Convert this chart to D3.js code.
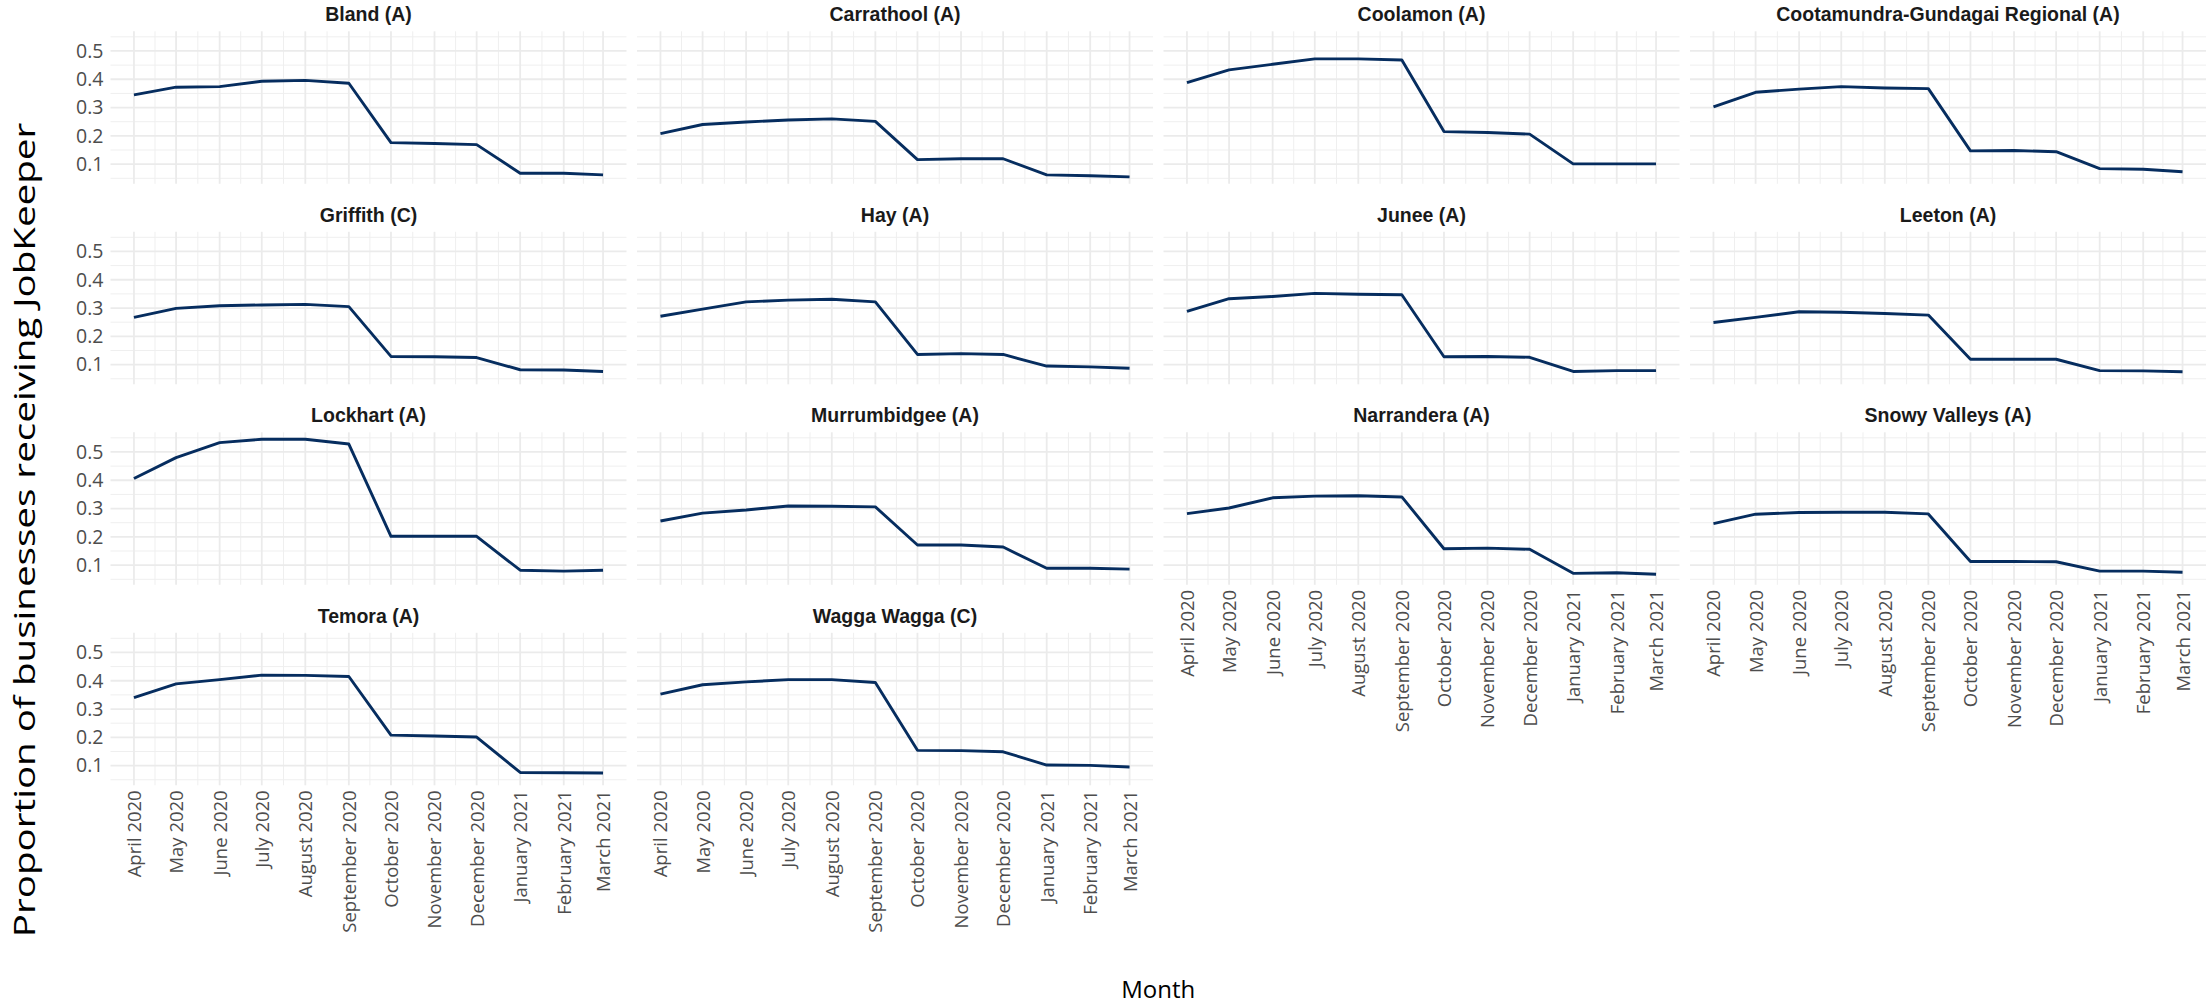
<!DOCTYPE html>
<html>
<head>
<meta charset="utf-8">
<script src="https://cdn.jsdelivr.net/npm/d3@7"></script>
<style>
  html, body { margin: 0; padding: 0; background: #ffffff; }
  svg { display: block; }
</style>
</head>
<body>
<svg id="chart" width="2211" height="1004"></svg>
<script>
// ---------------- data ----------------
const months = ["April 2020", "May 2020", "June 2020", "July 2020", "August 2020", "September 2020",
                "October 2020", "November 2020", "December 2020", "January 2021", "February 2021", "March 2021"];

const regions = ["Bland (A)", "Carrathool (A)", "Coolamon (A)", "Cootamundra-Gundagai Regional (A)",
                 "Griffith (C)", "Hay (A)", "Junee (A)", "Leeton (A)",
                 "Lockhart (A)", "Murrumbidgee (A)", "Narrandera (A)", "Snowy Valleys (A)",
                 "Temora (A)", "Wagga Wagga (C)"];

const bland        = [0.345, 0.372, 0.374, 0.393, 0.396, 0.386, 0.176, 0.173, 0.169, 0.068, 0.068, 0.062];
const carrathool   = [0.208, 0.240, 0.249, 0.256, 0.260, 0.251, 0.116, 0.119, 0.119, 0.062, 0.059, 0.055];
const coolamon     = [0.388, 0.433, 0.453, 0.472, 0.472, 0.468, 0.215, 0.212, 0.206, 0.101, 0.101, 0.101];
const cootamundra  = [0.302, 0.354, 0.365, 0.374, 0.369, 0.367, 0.147, 0.148, 0.144, 0.084, 0.082, 0.073];
const griffith     = [0.267, 0.299, 0.308, 0.311, 0.313, 0.305, 0.129, 0.128, 0.125, 0.082, 0.081, 0.076];
const hay          = [0.271, 0.296, 0.322, 0.328, 0.331, 0.322, 0.136, 0.139, 0.136, 0.095, 0.092, 0.087];
const junee        = [0.288, 0.333, 0.341, 0.352, 0.349, 0.347, 0.128, 0.129, 0.126, 0.076, 0.079, 0.079];
const leeton       = [0.249, 0.267, 0.287, 0.285, 0.281, 0.275, 0.119, 0.119, 0.119, 0.079, 0.078, 0.075];
const lockhart     = [0.406, 0.480, 0.533, 0.545, 0.545, 0.528, 0.202, 0.202, 0.202, 0.082, 0.079, 0.082];
const murrumbidgee = [0.256, 0.284, 0.295, 0.309, 0.308, 0.306, 0.171, 0.171, 0.164, 0.089, 0.089, 0.086];
const narrandera   = [0.282, 0.302, 0.338, 0.344, 0.345, 0.341, 0.158, 0.160, 0.156, 0.071, 0.073, 0.068];
const snowy        = [0.247, 0.280, 0.286, 0.287, 0.287, 0.281, 0.113, 0.113, 0.112, 0.079, 0.079, 0.075];
const temora       = [0.340, 0.389, 0.404, 0.420, 0.419, 0.415, 0.208, 0.205, 0.201, 0.076, 0.075, 0.074];
const wagga        = [0.353, 0.386, 0.396, 0.404, 0.404, 0.394, 0.154, 0.153, 0.149, 0.102, 0.101, 0.095];

const seriesValues = [bland, carrathool, coolamon, cootamundra, griffith, hay, junee, leeton,
                      lockhart, murrumbidgee, narrandera, snowy, temora, wagga];

const yTickValues = [0.1, 0.2, 0.3, 0.4, 0.5];
const yTickLabels = ["0.1", "0.2", "0.3", "0.4", "0.5"];

const xTitle = "Month";
const yTitle = "Proportion of businesses receiving JobKeeper";

// ---------------- layout ----------------
const W = 2211, H = 1004;
const nCols = 4;
const colLeft0 = 110.5, colStep = 526.5, panelW = 516;
const rowTop0 = 31.3, rowStep = 200.5, panelH = 152.5;

const lineColor = "#062d5f";
const gridMajor = "#ebebeb";
const gridMinor = "#efefef";
const tickFont = "'Open Sans', 'Noto Sans', sans-serif";
const stripFont = "'Liberation Sans', Arial, sans-serif";
const xTickSize = 18.5;
const yTickSize = 19.5;

const parseMonth = d3.timeParse("%B %Y");
const dates = months.map(parseMonth);

// x scale: continuous date with 5% expansion
const t0 = dates[0].getTime(), t1 = dates[dates.length - 1].getTime();
const xPad = (t1 - t0) * 0.05;
const x = d3.scaleTime().domain([new Date(t0 - xPad), new Date(t1 + xPad)]).range([0, panelW]);

// y scale: shared, 5% expansion of data range
const allVals = seriesValues.flat();
const yMin = d3.min(allVals), yMax = d3.max(allVals);
const yPad = (yMax - yMin) * 0.05;
const y = d3.scaleLinear().domain([yMin - yPad, yMax + yPad]).range([panelH, 0]);

// minor breaks
const yStep = yTickValues[1] - yTickValues[0];
const yMinor = [yTickValues[0] - yStep / 2].concat(yTickValues.map(v => v + yStep / 2))
  .filter(v => v >= y.domain()[0] && v <= y.domain()[1]);
const xMinor = d3.pairs(dates).map(([a, b]) => new Date((a.getTime() + b.getTime()) / 2));

const svg = d3.select("#chart");
svg.append("rect").attr("width", W).attr("height", H).attr("fill", "#ffffff");

const line = d3.line().x((d, i) => x(dates[i])).y(d => y(d));

regions.forEach((name, i) => {
  const col = i % nCols, row = Math.floor(i / nCols);
  const px = colLeft0 + col * colStep, py = rowTop0 + row * rowStep;
  const g = svg.append("g").attr("transform", `translate(${px},${py})`);

  // minor grid
  g.selectAll(".ymin").data(yMinor).enter().append("line")
    .attr("x1", 0).attr("x2", panelW).attr("y1", d => y(d)).attr("y2", d => y(d))
    .attr("stroke", gridMinor).attr("stroke-width", 1);
  g.selectAll(".xmin").data(xMinor).enter().append("line")
    .attr("y1", 0).attr("y2", panelH).attr("x1", d => x(d)).attr("x2", d => x(d))
    .attr("stroke", gridMinor).attr("stroke-width", 1);
  // major grid
  g.selectAll(".ymaj").data(yTickValues).enter().append("line")
    .attr("x1", 0).attr("x2", panelW).attr("y1", d => y(d)).attr("y2", d => y(d))
    .attr("stroke", gridMajor).attr("stroke-width", 1.8);
  g.selectAll(".xmaj").data(dates).enter().append("line")
    .attr("y1", 0).attr("y2", panelH).attr("x1", d => x(d)).attr("x2", d => x(d))
    .attr("stroke", gridMajor).attr("stroke-width", 1.8);

  // strip title
  g.append("text").attr("x", panelW / 2).attr("y", -10)
    .attr("text-anchor", "middle")
    .attr("font-family", stripFont).attr("font-weight", "bold").attr("font-size", 19.5)
    .attr("fill", "#1a1a1a").text(name);

  // data line
  g.append("path").datum(seriesValues[i])
    .attr("d", line).attr("fill", "none")
    .attr("stroke", lineColor).attr("stroke-width", 2.9)
    .attr("stroke-linejoin", "round").attr("stroke-linecap", "butt");

  // y axis labels (first column)
  if (col === 0) {
    const yAxis = d3.axisLeft(y).tickValues(yTickValues)
      .tickFormat((d, k) => yTickLabels[k]).tickSize(0).tickPadding(7);
    const ya = g.append("g").call(yAxis);
    ya.select(".domain").remove();
    ya.selectAll("text").attr("font-family", tickFont).attr("font-size", yTickSize).attr("fill", "#4d4d4d");
  }

  // x axis labels (bottom panel of each column)
  if (i + nCols >= regions.length) {
    const xAxis = d3.axisBottom(x).tickValues(dates)
      .tickFormat((d, k) => months[k]).tickSize(0);
    const xa = g.append("g").attr("transform", `translate(0,${panelH})`).call(xAxis);
    xa.select(".domain").remove();
    xa.selectAll("text")
      .attr("font-family", tickFont).attr("font-size", xTickSize).attr("fill", "#4d4d4d")
      .attr("transform", "rotate(-90)")
      .attr("text-anchor", "end")
      .attr("x", -5).attr("y", 0).attr("dy", "0.35em");
  }
});

// axis titles
const plotLeft = colLeft0, plotRight = colLeft0 + (nCols - 1) * colStep + panelW;
svg.append("text")
  .attr("x", (plotLeft + plotRight) / 2).attr("y", 998)
  .attr("text-anchor", "middle")
  .attr("font-family", tickFont).attr("font-size", 24).attr("fill", "#000000")
  .text(xTitle);

svg.append("text")
  .attr("transform", `translate(35,${530}) rotate(-90) scale(1.33,1)`)
  .attr("text-anchor", "middle")
  .attr("font-family", tickFont).attr("font-size", 29).attr("fill", "#000000")
  .text(yTitle);
</script>
</body>
</html>
